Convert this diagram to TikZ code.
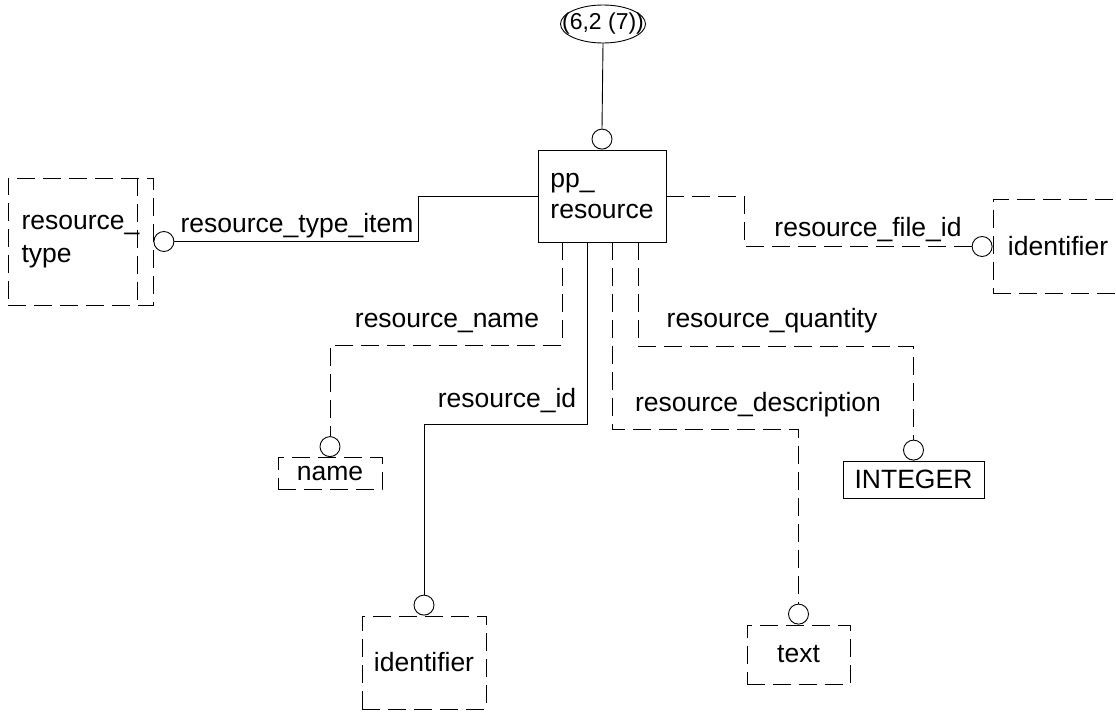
\documentclass[tikz,border=0pt]{standalone}
\usepackage{fontspec}
\setmainfont{Liberation Sans}
\usetikzlibrary{positioning}

\tikzset{
  every node/.style={font=\fontsize{26.5}{31}\selectfont},
  dashline/.style={dash pattern=on 18pt off 8pt},
  entbox/.style={draw,line width=0.9pt,inner sep=0pt,align=left},
  typebox/.style={entbox,dashline},
  ring/.style={circle,draw,line width=0.9pt,minimum size=20pt,inner sep=0pt},
  link/.style={line width=0.9pt},
  attr/.style={inner sep=0pt,anchor=base}
}

\begin{document}
\begin{tikzpicture}[x=1pt,y=-1pt]
\useasboundingbox (0,0) rectangle (1116,712);

% entity and types
\node[entbox,minimum width=128pt,minimum height=92pt] (pp) at (602,196) {pp\_\\resource};
\node[typebox,minimum width=145pt,minimum height=127pt] (rtype) at (80.5,241.5) {resource\_\\[2pt]type};
\draw[link,dashline] ([xshift=-16pt]rtype.north east) -- ([xshift=-16pt]rtype.south east);
\node[typebox,minimum width=130pt,minimum height=94pt] (fid) at (1058,246.5) {identifier};
\node[typebox,minimum width=104pt,minimum height=32pt] (nm) at (330,473.5) {name};
\node[typebox,minimum width=124pt,minimum height=93pt] (rid) at (424,662.5) {identifier};
\node[typebox,minimum width=103pt,minimum height=59pt] (txt) at (798.5,654.5) {text};
\node[entbox,minimum width=141pt,minimum height=37pt] (int) at (913.5,479.5) {INTEGER};

% page reference
\node[inner sep=0pt,minimum height=38pt,font=\fontsize{23}{26}\selectfont] (ref) at (603,24) {(6,2 (7))};
\draw[link] (ref.center) ellipse [x radius=42.5pt, y radius=19pt];

% circles
\node[ring,above=0pt of pp] (c0) {};
\node[ring,right=0pt of rtype] (c1) {};
\node[ring,left=0pt of fid] (c2) {};
\node[ring,above=0pt of nm] (c3) {};
\node[ring,above=0pt of rid] (c4) {};
\node[ring,above=0pt of txt] (c5) {};
\node[ring,above=0pt of int] (c6) {};

% connectors
\draw[link] (ref.south) -- (c0.north);
\draw[link] (pp.west) -- ++(-119,0) |- (c1.east);
\draw[link,dashline] (pp.east) -- ++(78,0) |- (c2.west);
\draw[link,dashline] ([xshift=-40pt]pp.south) -- ++(0,103) -| (c3.north);
\draw[link] ([xshift=-15pt]pp.south) -- ++(0,182) -| (c4.north);
\draw[link,dashline] ([xshift=10pt]pp.south) -- ++(0,187) -| (c5.north);
\draw[link,dashline] ([xshift=36pt]pp.south) -- ++(0,104) -| (c6.north);

% labels
\node[attr] (l1) at (297,232) {resource\_type\_item};
\node[attr] (l2) at (868,236) {resource\_file\_id};
\node[attr] (l3) at (447,327) {resource\_name};
\node[attr] (l4) at (772,327) {resource\_quantity};
\node[attr] (l5) at (507,407) {resource\_id};
\node[attr] (l6) at (758,411) {resource\_description};
\end{tikzpicture}
\end{document}
